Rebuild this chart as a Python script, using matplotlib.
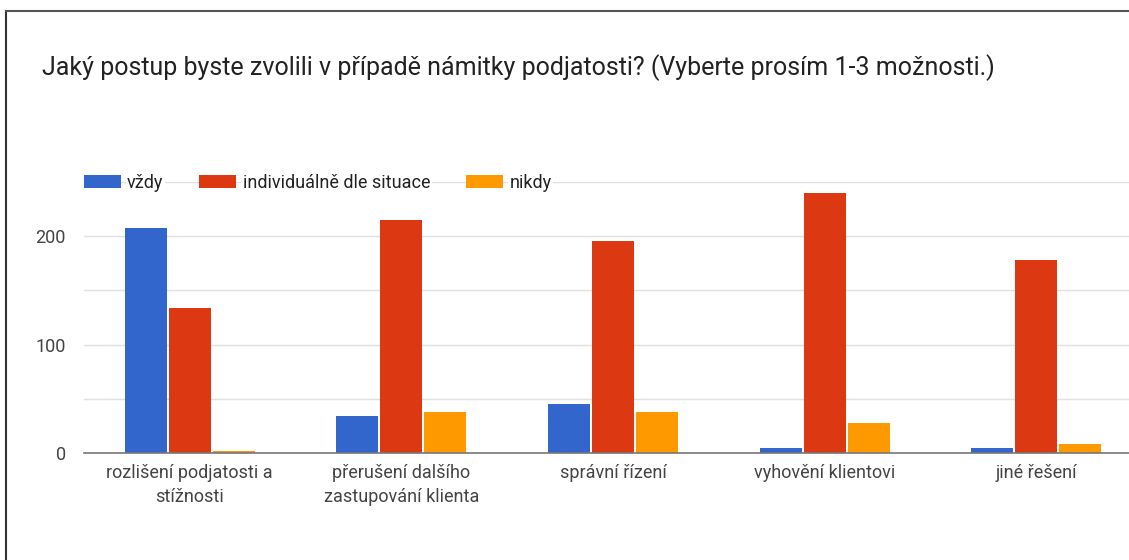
import numpy as np
import matplotlib
matplotlib.use('Agg')
import matplotlib.pyplot as plt
from matplotlib.lines import Line2D

plt.rcParams['font.family'] = ['Roboto', 'DejaVu Sans']

categories = ['rozlišení podjatosti a\nstížnosti', 'přerušení dalšího\nzastupování klienta',
              'správní řízení', 'vyhovění klientovi', 'jiné řešení']
series_names = ['vždy', 'individuálně dle situace', 'nikdy']
vzdy = [207, 34, 45, 5, 5]
individualne = [134, 215, 195, 240, 178]
nikdy = [2, 38, 38, 28, 8]
colors = ['#3366CC', '#DC3912', '#FF9900']

fig = plt.figure(figsize=(11.29, 5.60), dpi=100)
# plot area runs a bit past the right edge of the picture, as in the original crop
ax = fig.add_axes([84/1129, 1-453/560, 1058/1129, (453-181.75)/560])

x = np.arange(len(categories))
w = 0.198
for i, (vals, name) in enumerate(zip([vzdy, individualne, nikdy], series_names)):
    ax.bar(x + (i-1)*0.208, vals, width=w, color=colors[i], label=name,
           edgecolor='none', zorder=3)

ax.set_xlim(-0.5, len(categories)-0.5)
ax.set_ylim(0, 250)
ax.set_yticks([0, 100, 200])
ax.set_yticks([50, 150, 250], minor=True)
ax.grid(axis='y', which='both', color='#e0e0e0', linewidth=1, zorder=0)
ax.set_xticks(x)
ax.set_xticklabels(categories, linespacing=1.45)
ax.tick_params(axis='both', which='both', length=0, labelsize=13, labelcolor='#444444')
ax.tick_params(axis='y', pad=13)
ax.tick_params(axis='x', pad=8)
for s in ['top', 'right', 'left']:
    ax.spines[s].set_visible(False)
ax.spines['bottom'].set_color('#777777')
ax.spines['bottom'].set_linewidth(1.2)
ax.spines['bottom'].set_zorder(4)

leg = fig.legend(loc='center left', bbox_to_anchor=(80/1129, 1-183/560), ncol=3,
                 frameon=False, fontsize=13, handlelength=2.05, handleheight=0.7,
                 handletextpad=0.35, columnspacing=2.0, labelcolor='#222222',
                 borderaxespad=0, borderpad=0.2)
for t in leg.get_texts():
    t.set_bbox(dict(facecolor='white', edgecolor='none', pad=1))

fig.text(42/1129, 1-68/560, 'Jaký postup byste zvolili v případě námitky podjatosti? (Vyberte prosím 1-3 možnosti.)',
         fontsize=18, color='#222222', va='center', ha='left')

# border lines
fig.add_artist(Line2D([6/1129, 6/1129], [0, 1-11/560], color='#333333', lw=1.5, transform=fig.transFigure))
fig.add_artist(Line2D([6/1129, 1], [1-11/560, 1-11/560], color='#555555', lw=1.5, transform=fig.transFigure))

fig.savefig('out.png', dpi=100, facecolor='white')
